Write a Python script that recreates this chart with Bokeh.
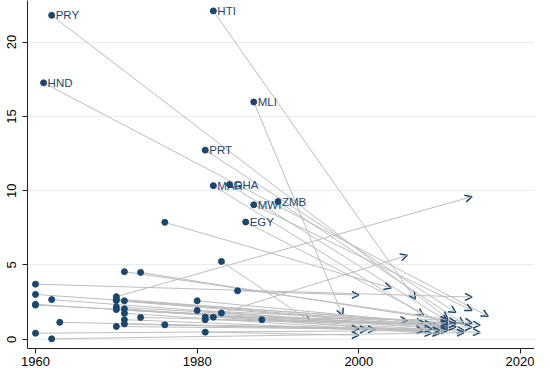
from bokeh.plotting import figure
from bokeh.models import ColumnDataSource, Arrow, OpenHead, Range1d, FixedTicker
from bokeh.embed import file_html
from bokeh.resources import INLINE
from bokeh.core.properties import value

# Start points (year, value), end points (year, value), country labels
labels = ["PRY", "HTI", "HND", "MLI", "PRT", "MAR", "GHA", "MWI", "ZMB", "EGY"]
start_year = [1962, 1982, 1961, 1987, 1981, 1982, 1984, 1987, 1990, 1986,
              1976, 1983, 1971, 1973, 1960, 1985, 1970, 1983,
              1960, 1962, 1970, 1970, 1971, 1980, 1960, 1960, 1970, 1970, 1971, 1971, 1980,
              1982, 1981, 1981, 1973, 1971, 1971, 1963, 1970, 1976, 1988, 1981, 1960, 1962]
start_val = [21.8, 22.1, 17.26, 15.97, 12.73, 10.34, 10.41, 9.05, 9.27, 7.89,
             7.87, 5.24, 4.55, 4.5, 3.71, 3.26, 2.87, 1.77,
             3.02, 2.67, 2.7, 2.6, 2.59, 2.59, 2.35, 2.3, 2.18, 2.0, 2.05, 1.75, 1.94,
             1.49, 1.49, 1.32, 1.47, 1.32, 1.03, 1.14, 0.86, 0.97, 1.32, 0.48, 0.41, 0.03]
end_year = [2011, 2007, 2016, 1998, 2012, 2008, 2011, 2014, 2013, 2011,
            2004, 1994, 2014, 2012, 2014, 2000, 2014, 2006,
            2015, 2013, 2011, 2010, 2009, 2008, 2015, 2014, 2012, 2011, 2010, 2009, 2006,
            2008, 2011, 2012, 2011, 2002, 2001, 2011, 2000, 2009, 2011, 2000, 2010, 2013]
end_val = [1.4, 2.7, 1.55, 1.6, 1.8, 1.62, 1.2, 1.94, 1.04, 0.9,
           3.45, 1.2, 1.1, 1.15, 2.84, 2.97, 9.6, 5.65,
           0.95, 0.6, 1.05, 0.85, 1.0, 1.13, 0.45, 0.8, 0.82, 0.75, 0.4, 0.4, 1.27,
           0.58, 1.3, 1.0, 0.95, 0.65, 0.65, 0.6, 0.7, 0.7, 1.1, 0.28, 0.6, 0.45]

x_ticks = [1960, 1980, 2000, 2020]
y_ticks = [0, 5, 10, 15, 20]

point_labels = labels + [""] * (len(start_year) - len(labels))

navy = "#1a476f"

src = ColumnDataSource(dict(x0=start_year, y0=start_val, x1=end_year, y1=end_val,
                            lab=point_labels))

p = figure(width=534, height=371, output_backend="svg", toolbar_location=None,
           x_range=Range1d(1959.01, 2021.73), y_range=Range1d(-0.62, 22.8),
           min_border_left=27, min_border_right=0, min_border_top=0, min_border_bottom=23)
p.outline_line_color = None
p.background_fill_color = "white"

p.xgrid.grid_line_color = None
p.ygrid.grid_line_color = "#e6eeee"
p.ygrid.grid_line_width = 1

arrows = Arrow(x_start="x0", y_start="y0", x_end="x1", y_end="y1", source=src,
               line_color="#bdbdbd", line_width=1,
               end=OpenHead(size=7, line_color=navy, line_width=1.5),
               level="underlay")
p.add_layout(arrows)

p.scatter("x0", "y0", source=src, size=6, color=navy)
p.text("x0", "y0", text="lab", source=src, x_offset=4, text_baseline="middle",
       text_align="left", text_color=navy, text_font_size="11.5px",
       text_font=value("Liberation Sans"))

for ax in (p.xaxis[0], p.yaxis[0]):
    ax.axis_line_color = "#222222"
    ax.axis_line_width = 1
    ax.major_tick_line_color = "#222222"
    ax.major_tick_in = 0
    ax.major_tick_out = 5
    ax.minor_tick_line_color = None
    ax.major_label_text_font = "Liberation Sans"
    ax.major_label_text_font_size = "13px"
    ax.major_label_text_color = "black"

p.xaxis[0].ticker = FixedTicker(ticks=x_ticks)
p.yaxis[0].ticker = FixedTicker(ticks=y_ticks)
p.xaxis[0].major_label_standoff = 3
p.yaxis[0].major_label_standoff = 6
p.yaxis[0].major_label_orientation = "vertical"

open("out.html", "w").write(file_html(p, INLINE))
